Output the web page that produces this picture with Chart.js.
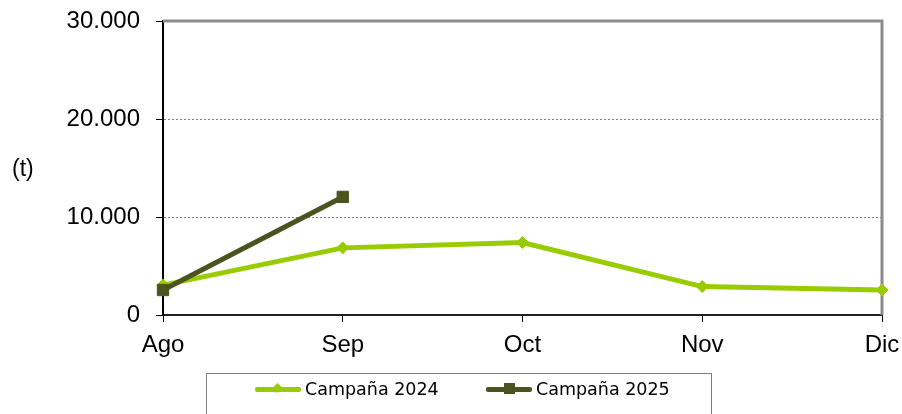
<!DOCTYPE html>
<html>
<head>
<meta charset="utf-8">
<script src="https://cdn.jsdelivr.net/npm/chart.js@4.4.1/dist/chart.umd.min.js"></script>
<style>
  html, body { margin: 0; padding: 0; background: #fff; }
  #wrap { position: relative; width: 902px; height: 414px; overflow: hidden; }
  #grafico { position: absolute; left: 0; top: 0; }
  #unidad { position: absolute; left: 12px; top: 155px; font: 23px "Liberation Sans", Arial, sans-serif; color: #000; }
  #leyenda { position: absolute; left: 206px; top: 373px; width: 506px; height: 60px; border: 1px solid #808080; box-sizing: border-box;
             font: 17.5px "DejaVu Sans", sans-serif; color: #000; }
  .item { position: absolute; top: 4px; height: 22px; line-height: 22px; white-space: nowrap; }
  .muestra { position: absolute; top: 9px; height: 5px; width: 46px; border-radius: 2px; }
  .marca { position: absolute; }
  .item span.txt { position: absolute; left: 50px; top: 0; }
</style>
</head>
<body>
<div id="wrap">
  <canvas id="grafico" width="902" height="414"></canvas>
  <div id="unidad">(t)</div>
  <div id="leyenda">
    <div class="item" style="left:48px">
      <div class="muestra" style="background:#99cc00"></div>
      <div class="marca" style="left:18px;top:6px;width:8px;height:8px;background:#99cc00;transform:rotate(45deg) scaleX(0.8)"></div>
      <span class="txt">Campaña 2024</span>
    </div>
    <div class="item" style="left:279px">
      <div class="muestra" style="background:#4b5320"></div>
      <div class="marca" style="left:18px;top:5px;width:11px;height:11px;background:#4b5320"></div>
      <span class="txt">Campaña 2025</span>
    </div>
  </div>
</div>
<script>
// datos (toneladas)
const meses = ['Ago', 'Sep', 'Oct', 'Nov', 'Dic'];
const campana2024 = [3050, 6850, 7400, 2900, 2550];
const campana2025 = [2550, 12050, null, null, null];
const ticksY = [0, 10000, 20000, 30000];

const verdeClaro = '#99cc00';
const verdeOscuro = '#4b5320';

const fmtMiles = v => String(v).replace(/\B(?=(\d{3})+(?!\d))/g, '.');

// borde gris arriba y a la derecha del área del gráfico
const bordeArea = {
  id: 'bordeArea',
  beforeDatasetsDraw(chart) {
    const { ctx, chartArea: a } = chart;
    ctx.save();
    ctx.strokeStyle = '#8c8c8c';
    ctx.lineWidth = 3;
    ctx.beginPath();
    ctx.moveTo(a.left, a.top);
    ctx.lineTo(a.right, a.top);
    ctx.lineTo(a.right, a.bottom);
    ctx.stroke();
    ctx.restore();
  }
};

new Chart(document.getElementById('grafico'), {
  type: 'line',
  data: {
    labels: meses,
    datasets: [
      {
        label: 'Campaña 2024',
        data: campana2024,
        borderColor: verdeClaro,
        backgroundColor: verdeClaro,
        borderWidth: 5,
        pointStyle: 'rectRot',
        pointRadius: 6,
        pointBorderWidth: 1,
        tension: 0,
        clip: false,
        order: 2
      },
      {
        label: 'Campaña 2025',
        data: campana2025,
        borderColor: verdeOscuro,
        backgroundColor: verdeOscuro,
        borderWidth: 5,
        pointStyle: 'rect',
        pointRadius: 8,
        pointBorderWidth: 1,
        tension: 0,
        clip: false,
        order: 1
      }
    ]
  },
  options: {
    responsive: false,
    animation: false,
    layout: { padding: { left: 0, top: 21, right: 20, bottom: 0 } },
    plugins: {
      legend: { display: false },
      tooltip: { enabled: false }
    },
    scales: {
      x: {
        offset: false,
        grid: { display: true, drawOnChartArea: false, drawTicks: true, tickLength: 7, color: '#000', lineWidth: 1 },
        border: { display: true, color: '#222', width: 2 },
        ticks: { color: '#000', padding: 9, maxRotation: 0, font: { family: '"Liberation Sans", Arial', size: 24 } },
        afterFit: s => { s.height = 99; s.paddingLeft = 0; s.paddingRight = 0; }
      },
      y: {
        min: 0,
        max: 30000,
        afterBuildTicks: s => { s.ticks = ticksY.map(v => ({ value: v })); },
        grid: {
          drawTicks: true,
          tickLength: 7,
          tickColor: '#000',
          tickBorderDash: [],
          color: ctx => (ctx.tick && (ctx.tick.value === 0 || ctx.tick.value === 30000)) ? 'rgba(0,0,0,0)' : '#808080',
          lineWidth: 1
        },
        border: { display: true, color: '#000', width: 2, dash: [2, 2] },
        ticks: {
          color: '#000',
          padding: 16,
          callback: v => fmtMiles(v),
          font: { family: '"Liberation Sans", Arial', size: 24 }
        },
        afterFit: s => { s.width = 163; s.paddingTop = 0; s.paddingBottom = 0; }
      }
    }
  },
  plugins: [bordeArea]
});
</script>
</body>
</html>
